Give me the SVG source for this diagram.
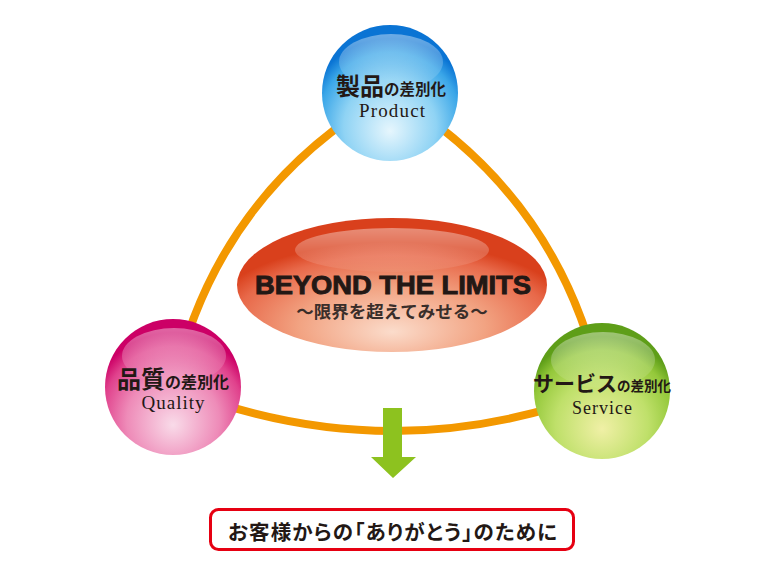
<svg xmlns="http://www.w3.org/2000/svg" width="781" height="582" viewBox="0 0 781 582">
<defs>
  <radialGradient id="gBlue" cx="0.5" cy="0.72" r="0.62" fx="0.5" fy="0.78">
    <stop offset="0" stop-color="#e6f6fd"/>
    <stop offset="0.55" stop-color="#8fd3f4"/>
    <stop offset="0.85" stop-color="#3aa6e8"/>
    <stop offset="1" stop-color="#0a74d4"/>
  </radialGradient>
  <radialGradient id="gPink" cx="0.5" cy="0.72" r="0.62" fx="0.5" fy="0.78">
    <stop offset="0" stop-color="#f9dbe9"/>
    <stop offset="0.55" stop-color="#ee8bb8"/>
    <stop offset="0.85" stop-color="#e0418c"/>
    <stop offset="1" stop-color="#cc0066"/>
  </radialGradient>
  <radialGradient id="gGreen" cx="0.5" cy="0.72" r="0.62" fx="0.5" fy="0.78">
    <stop offset="0" stop-color="#f0f0a6"/>
    <stop offset="0.55" stop-color="#bfe06a"/>
    <stop offset="0.85" stop-color="#94c83a"/>
    <stop offset="1" stop-color="#5e9e18"/>
  </radialGradient>
  <radialGradient id="gOrange" cx="0.5" cy="0.78" r="0.6" fx="0.5" fy="0.85">
    <stop offset="0" stop-color="#fbdccb"/>
    <stop offset="0.5" stop-color="#f2a382"/>
    <stop offset="0.85" stop-color="#e8694a"/>
    <stop offset="1" stop-color="#d9401c"/>
  </radialGradient>
  <linearGradient id="gHi" x1="0" y1="0" x2="0" y2="1">
    <stop offset="0" stop-color="#ffffff" stop-opacity="0.4"/>
    <stop offset="1" stop-color="#ffffff" stop-opacity="0.05"/>
  </linearGradient>
</defs>
<style>
  .arc { fill: none; stroke: #f39800; stroke-width: 8; stroke-linecap: round; }
  .jp { font-family: "Liberation Serif", "Noto Sans CJK JP", serif; font-weight: bold; fill: #231815; }
  .en { font-family: "Liberation Serif", serif; fill: #231815; }
  .hi { fill: url(#gHi); }
</style>
<rect width="781" height="582" fill="#ffffff"/>
<g id="connectors">
  <path class="arc" d="M173,387 Q217,192 390,93"/>
  <path class="arc" d="M390,93 Q561,196 602,391"/>
  <path class="arc" d="M173,387 Q388,473 602,391"/>
  <polygon points="383,408 402,408 402,457 416,457 393,478 371,457 383,457" fill="#8dc21f"/>
</g>
<g id="node-center">
  <ellipse cx="392" cy="285" rx="155" ry="67" fill="url(#gOrange)"/>
  <ellipse cx="392" cy="250" rx="97" ry="22" class="hi"/>
  <text x="393" y="294" text-anchor="middle" font-family="Liberation Sans, Arial, sans-serif" font-weight="bold" font-size="25" fill="#231815" stroke="#231815" stroke-width="0.9" textLength="276" lengthAdjust="spacingAndGlyphs">BEYOND THE LIMITS</text>
  <text x="392" y="318" text-anchor="middle" font-family="Noto Sans CJK JP, sans-serif" font-weight="bold" font-size="17.5" fill="#3a2e2a">～限界を超えてみせる～</text>
</g>
<g id="node-product">
  <circle cx="390" cy="93" r="68" fill="url(#gBlue)"/>
  <ellipse cx="391" cy="62" rx="52" ry="28" class="hi"/>
  <text x="391" y="95" text-anchor="middle" class="jp"><tspan font-size="24">製品</tspan><tspan font-size="15.5">の差別化</tspan></text>
  <text x="392" y="117" text-anchor="middle" class="en" font-size="19" textLength="66">Product</text>
</g>
<g id="node-quality">
  <circle cx="173" cy="387" r="68" fill="url(#gPink)"/>
  <ellipse cx="174" cy="356" rx="52" ry="28" class="hi"/>
  <text x="173" y="388" text-anchor="middle" class="jp"><tspan font-size="24">品質</tspan><tspan font-size="16">の差別化</tspan></text>
  <text x="173" y="409" text-anchor="middle" class="en" font-size="19" textLength="63">Quality</text>
</g>
<g id="node-service">
  <circle cx="602" cy="391" r="68" fill="url(#gGreen)"/>
  <ellipse cx="603" cy="360" rx="52" ry="28" class="hi"/>
  <text x="602" y="391" text-anchor="middle" class="jp"><tspan font-size="21">サービス</tspan><tspan font-size="13.5">の差別化</tspan></text>
  <text x="602" y="414" text-anchor="middle" class="en" font-size="18" textLength="60">Service</text>
</g>
<g id="node-goal">
  <rect x="210.5" y="509.5" width="363" height="40" rx="8" ry="8" fill="#ffffff" stroke="#e60012" stroke-width="3"/>
  <text x="392.5" y="540" text-anchor="middle" font-family="Noto Sans CJK JP, sans-serif" font-weight="bold" font-size="20.5" fill="#231815" style="font-feature-settings: 'palt'" textLength="329">お客様からの「ありがとう」のために</text>
</g>
</svg>
